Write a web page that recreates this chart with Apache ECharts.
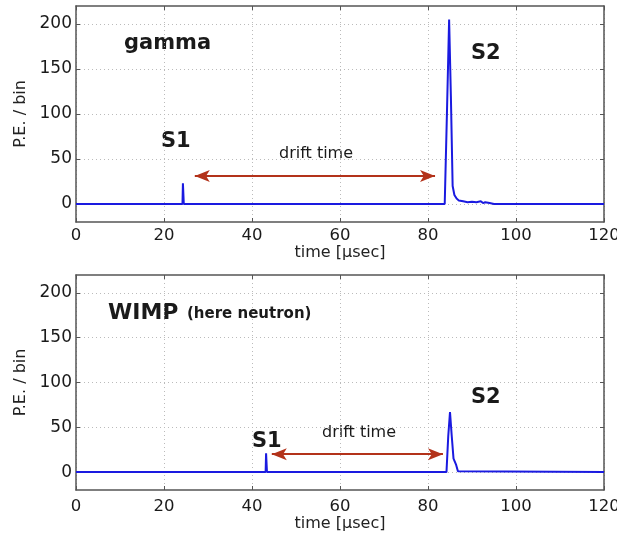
<!DOCTYPE html>
<html><head><meta charset="utf-8">
<script src="https://cdn.jsdelivr.net/npm/echarts@6/dist/echarts.min.js"></script>
<style>html,body{margin:0;padding:0;background:#fff}#c{width:617px;height:535px}</style>
</head><body><div id="c"></div>
<script>
// time [µsec], P.E./bin
const gammaTime = [0,24.2,24.3,24.5,83.8,84.3,84.8,85.2,85.6,86,86.5,87,88,89,90,91,92,92.5,93,94,95,120];
const gammaPE   = [0,0,23,0,0,100,205,120,20,10,6,4,3,2,2.5,2,3,1,2,1,0,0];
const wimpTime  = [0,43.1,43.2,43.4,84.2,84.6,85,85.4,85.8,86.1,86.4,86.8,87,120];
const wimpPE    = [0,0,21,0,0,40,67,40,15,16,8,1,0,0];
const xTicks = [0,20,40,60,80,100,120];
const yTicks = [0,50,100,150,200];
const gammaArrow = [[27,31],[81.6,31]];
const wimpArrow  = [[44.5,20],[83.4,20]];

const pair = (t,v)=>t.map((x,i)=>[x,v[i]]);
const font = '"DejaVu Sans", Verdana, sans-serif';
const axisCol = '#555';
function xAx(gi,lblMargin,nameGap){return [{
  gridIndex:gi,type:'value',min:0,max:120,interval:20,
  name:'time [µsec]',nameLocation:'middle',nameGap:nameGap,
  nameTextStyle:{color:'#222',fontSize:16,fontFamily:font},
  axisLine:{show:true,onZero:false,lineStyle:{color:axisCol,width:1.5}},
  axisTick:{show:true,inside:true,length:4,customValues:xTicks,lineStyle:{color:axisCol}},
  axisLabel:{color:'#1a1a1a',fontSize:16.5,fontFamily:font,margin:lblMargin,customValues:xTicks},
  splitLine:{show:true,lineStyle:{color:'#bbb',type:[1,3],width:1}}
},{
  gridIndex:gi,type:'value',position:'top',min:0,max:120,interval:20,
  axisLine:{show:true,onZero:false,lineStyle:{color:axisCol,width:1.5}},
  axisTick:{show:true,inside:true,length:4,lineStyle:{color:axisCol}},
  axisLabel:{show:false},splitLine:{show:false}
}];}
function yAx(gi){return [{
  gridIndex:gi,type:'value',min:-20,max:220,
  name:'P.E. / bin',nameLocation:'middle',nameGap:39,
  nameTextStyle:{color:'#222',fontSize:16,fontFamily:font},
  axisLine:{show:true,onZero:false,lineStyle:{color:axisCol,width:1.5}},
  axisTick:{show:true,inside:true,length:4,customValues:yTicks,lineStyle:{color:axisCol}},
  axisLabel:{color:'#1a1a1a',fontSize:17,fontFamily:font,margin:4,customValues:yTicks},
  splitLine:{show:true,lineStyle:{color:'#bbb',type:[1,3],width:1}}
},{
  gridIndex:gi,type:'value',position:'right',min:-20,max:220,
  axisLine:{show:true,onZero:false,lineStyle:{color:axisCol,width:1.5}},
  axisTick:{show:true,inside:true,length:4,customValues:yTicks,lineStyle:{color:axisCol}},
  axisLabel:{show:false,customValues:yTicks},splitLine:{show:false}
}];}
const arrowLine = (a)=>({
  silent:true,symbol:['arrow','arrow'],symbolSize:[9,15],
  lineStyle:{color:'#b3321a',width:2,type:'solid'},label:{show:false},
  data:[[{coord:a[0]},{coord:a[1]}]]
});
const lineColor = '#1a1ae0';
function txt(x,y,s,size,bold){return {type:'text',left:x,top:y,style:{text:s,fontSize:size,fontWeight:bold?'bold':'normal',fontFamily:font,fill:'#1a1a1a'}};}
const chart = echarts.init(document.getElementById('c'));
chart.setOption({
  animation:false,
  grid:[{left:76,top:6,width:528,height:216,outerBoundsMode:'none'},
        {left:76,top:275,width:528,height:215,outerBoundsMode:'none'}],
  xAxis:[...xAx(0,5,17),...xAx(1,8,24)],
  yAxis:[...yAx(0),...yAx(1)],
  series:[
    {type:'line',xAxisIndex:0,yAxisIndex:0,data:pair(gammaTime,gammaPE),showSymbol:false,
     lineStyle:{color:lineColor,width:2},markLine:arrowLine(gammaArrow)},
    {type:'line',xAxisIndex:2,yAxisIndex:2,data:pair(wimpTime,wimpPE),showSymbol:false,
     lineStyle:{color:lineColor,width:2},markLine:arrowLine(wimpArrow)}
  ],
  graphic:[
    txt(124,33,'gamma',21,true),
    txt(161,131,'S1',21,true),
    txt(279,146,'drift time',16,false),
    txt(471,43,'S2',21,true),
    txt(108,302,'WIMP',22,true),
    txt(187,307,'(here neutron)',15,true),
    txt(252,431,'S1',21,true),
    txt(322,425,'drift time',16,false),
    txt(471,387,'S2',21,true)
  ]
});
</script></body></html>
